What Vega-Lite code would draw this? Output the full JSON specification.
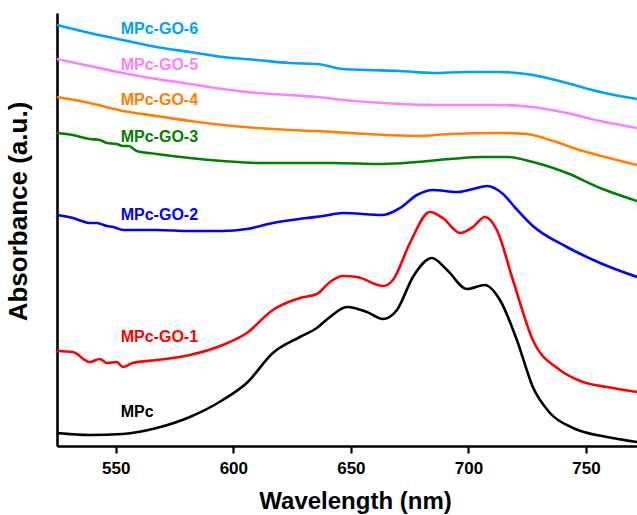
{
  "$schema": "https://vega.github.io/schema/vega-lite/v6.json",
  "width": 580,
  "height": 433,
  "autosize": {"type": "none"},
  "padding": {"left": 57, "top": 13, "right": 0, "bottom": 69},
  "background": "white",
  "config": {
    "view": {"stroke": null},
    "font": "Liberation Sans"
  },
  "datasets": {
    "spectra": [
      {"s": "MPc-GO-6", "w": 525, "a": 4.21}, {"s": "MPc-GO-6", "w": 538.9, "a": 4.13}, {"s": "MPc-GO-6", "w": 553, "a": 4.06}, {"s": "MPc-GO-6", "w": 567.4, "a": 3.99}, {"s": "MPc-GO-6", "w": 581.5, "a": 3.94}, {"s": "MPc-GO-6", "w": 595.5, "a": 3.89}, {"s": "MPc-GO-6", "w": 610, "a": 3.86}, {"s": "MPc-GO-6", "w": 624, "a": 3.83}, {"s": "MPc-GO-6", "w": 635.5, "a": 3.82}, {"s": "MPc-GO-6", "w": 646.6, "a": 3.77}, {"s": "MPc-GO-6", "w": 656.8, "a": 3.76}, {"s": "MPc-GO-6", "w": 670.9, "a": 3.75}, {"s": "MPc-GO-6", "w": 684.9, "a": 3.73}, {"s": "MPc-GO-6", "w": 699.4, "a": 3.74}, {"s": "MPc-GO-6", "w": 713.4, "a": 3.74}, {"s": "MPc-GO-6", "w": 727.4, "a": 3.71}, {"s": "MPc-GO-6", "w": 741.9, "a": 3.63}, {"s": "MPc-GO-6", "w": 756, "a": 3.54}, {"s": "MPc-GO-6", "w": 771.7, "a": 3.47},

      {"s": "MPc-GO-5", "w": 525, "a": 3.87}, {"s": "MPc-GO-5", "w": 538.9, "a": 3.80}, {"s": "MPc-GO-5", "w": 553, "a": 3.73}, {"s": "MPc-GO-5", "w": 567.4, "a": 3.67}, {"s": "MPc-GO-5", "w": 581.5, "a": 3.62}, {"s": "MPc-GO-5", "w": 595.5, "a": 3.57}, {"s": "MPc-GO-5", "w": 610, "a": 3.53}, {"s": "MPc-GO-5", "w": 624, "a": 3.51}, {"s": "MPc-GO-5", "w": 635.5, "a": 3.49}, {"s": "MPc-GO-5", "w": 646.6, "a": 3.46}, {"s": "MPc-GO-5", "w": 663.6, "a": 3.43}, {"s": "MPc-GO-5", "w": 684.9, "a": 3.41}, {"s": "MPc-GO-5", "w": 699.4, "a": 3.41}, {"s": "MPc-GO-5", "w": 713.4, "a": 3.41}, {"s": "MPc-GO-5", "w": 727.4, "a": 3.39}, {"s": "MPc-GO-5", "w": 741.9, "a": 3.33}, {"s": "MPc-GO-5", "w": 756, "a": 3.25}, {"s": "MPc-GO-5", "w": 771.7, "a": 3.18},

      {"s": "MPc-GO-4", "w": 525, "a": 3.49}, {"s": "MPc-GO-4", "w": 538.9, "a": 3.43}, {"s": "MPc-GO-4", "w": 553, "a": 3.35}, {"s": "MPc-GO-4", "w": 567.4, "a": 3.30}, {"s": "MPc-GO-4", "w": 581.5, "a": 3.25}, {"s": "MPc-GO-4", "w": 595.5, "a": 3.21}, {"s": "MPc-GO-4", "w": 610, "a": 3.18}, {"s": "MPc-GO-4", "w": 624, "a": 3.16}, {"s": "MPc-GO-4", "w": 635.5, "a": 3.15}, {"s": "MPc-GO-4", "w": 642.3, "a": 3.14}, {"s": "MPc-GO-4", "w": 656.8, "a": 3.12}, {"s": "MPc-GO-4", "w": 678.1, "a": 3.10}, {"s": "MPc-GO-4", "w": 692.1, "a": 3.12}, {"s": "MPc-GO-4", "w": 713.4, "a": 3.13}, {"s": "MPc-GO-4", "w": 724.9, "a": 3.12}, {"s": "MPc-GO-4", "w": 734.7, "a": 3.06}, {"s": "MPc-GO-4", "w": 748.7, "a": 2.95}, {"s": "MPc-GO-4", "w": 763.2, "a": 2.86}, {"s": "MPc-GO-4", "w": 771.7, "a": 2.81},

      {"s": "MPc-GO-3", "w": 525, "a": 3.13}, {"s": "MPc-GO-3", "w": 531.7, "a": 3.11}, {"s": "MPc-GO-3", "w": 538.9, "a": 3.07}, {"s": "MPc-GO-3", "w": 543.2, "a": 3.06}, {"s": "MPc-GO-3", "w": 546.2, "a": 3.03}, {"s": "MPc-GO-3", "w": 550.4, "a": 3.02}, {"s": "MPc-GO-3", "w": 553, "a": 3.00}, {"s": "MPc-GO-3", "w": 555.5, "a": 3.00}, {"s": "MPc-GO-3", "w": 558.9, "a": 2.95}, {"s": "MPc-GO-3", "w": 567.4, "a": 2.92}, {"s": "MPc-GO-3", "w": 581.5, "a": 2.88}, {"s": "MPc-GO-3", "w": 595.5, "a": 2.85}, {"s": "MPc-GO-3", "w": 610, "a": 2.83}, {"s": "MPc-GO-3", "w": 624, "a": 2.83}, {"s": "MPc-GO-3", "w": 642.3, "a": 2.83}, {"s": "MPc-GO-3", "w": 663.6, "a": 2.82}, {"s": "MPc-GO-3", "w": 678.1, "a": 2.84}, {"s": "MPc-GO-3", "w": 692.1, "a": 2.87}, {"s": "MPc-GO-3", "w": 706.2, "a": 2.89}, {"s": "MPc-GO-3", "w": 716.4, "a": 2.89}, {"s": "MPc-GO-3", "w": 727.4, "a": 2.84}, {"s": "MPc-GO-3", "w": 741.9, "a": 2.73}, {"s": "MPc-GO-3", "w": 756, "a": 2.58}, {"s": "MPc-GO-3", "w": 771.7, "a": 2.45},

      {"s": "MPc-GO-2", "w": 525, "a": 2.31}, {"s": "MPc-GO-2", "w": 531.7, "a": 2.28}, {"s": "MPc-GO-2", "w": 535.5, "a": 2.25}, {"s": "MPc-GO-2", "w": 538.9, "a": 2.23}, {"s": "MPc-GO-2", "w": 542, "a": 2.23}, {"s": "MPc-GO-2", "w": 546.2, "a": 2.20}, {"s": "MPc-GO-2", "w": 549, "a": 2.19}, {"s": "MPc-GO-2", "w": 553, "a": 2.16}, {"s": "MPc-GO-2", "w": 567.4, "a": 2.16}, {"s": "MPc-GO-2", "w": 581.5, "a": 2.15}, {"s": "MPc-GO-2", "w": 595.5, "a": 2.15}, {"s": "MPc-GO-2", "w": 605.7, "a": 2.17}, {"s": "MPc-GO-2", "w": 616.8, "a": 2.23}, {"s": "MPc-GO-2", "w": 631.3, "a": 2.28}, {"s": "MPc-GO-2", "w": 638.1, "a": 2.30}, {"s": "MPc-GO-2", "w": 646.6, "a": 2.33}, {"s": "MPc-GO-2", "w": 663.6, "a": 2.31}, {"s": "MPc-GO-2", "w": 670.9, "a": 2.38}, {"s": "MPc-GO-2", "w": 678.1, "a": 2.51}, {"s": "MPc-GO-2", "w": 684.9, "a": 2.56}, {"s": "MPc-GO-2", "w": 695.1, "a": 2.54}, {"s": "MPc-GO-2", "w": 701.9, "a": 2.57}, {"s": "MPc-GO-2", "w": 707.9, "a": 2.60}, {"s": "MPc-GO-2", "w": 714.7, "a": 2.52}, {"s": "MPc-GO-2", "w": 720, "a": 2.38}, {"s": "MPc-GO-2", "w": 727.4, "a": 2.20}, {"s": "MPc-GO-2", "w": 741.9, "a": 1.99}, {"s": "MPc-GO-2", "w": 756, "a": 1.83}, {"s": "MPc-GO-2", "w": 771.7, "a": 1.69},

      {"s": "MPc-GO-1", "w": 525, "a": 0.95}, {"s": "MPc-GO-1", "w": 531.7, "a": 0.94}, {"s": "MPc-GO-1", "w": 538.9, "a": 0.84}, {"s": "MPc-GO-1", "w": 543.2, "a": 0.87}, {"s": "MPc-GO-1", "w": 546.2, "a": 0.83}, {"s": "MPc-GO-1", "w": 550.4, "a": 0.84}, {"s": "MPc-GO-1", "w": 553, "a": 0.79}, {"s": "MPc-GO-1", "w": 557.2, "a": 0.83}, {"s": "MPc-GO-1", "w": 567.4, "a": 0.86}, {"s": "MPc-GO-1", "w": 581.5, "a": 0.91}, {"s": "MPc-GO-1", "w": 595.5, "a": 1.01}, {"s": "MPc-GO-1", "w": 605.7, "a": 1.13}, {"s": "MPc-GO-1", "w": 616.8, "a": 1.36}, {"s": "MPc-GO-1", "w": 628.3, "a": 1.48}, {"s": "MPc-GO-1", "w": 635.5, "a": 1.52}, {"s": "MPc-GO-1", "w": 641.1, "a": 1.64}, {"s": "MPc-GO-1", "w": 646.6, "a": 1.70}, {"s": "MPc-GO-1", "w": 652.6, "a": 1.69}, {"s": "MPc-GO-1", "w": 663.6, "a": 1.60}, {"s": "MPc-GO-1", "w": 667.9, "a": 1.66}, {"s": "MPc-GO-1", "w": 675.1, "a": 2.03}, {"s": "MPc-GO-1", "w": 683.6, "a": 2.34}, {"s": "MPc-GO-1", "w": 689.1, "a": 2.28}, {"s": "MPc-GO-1", "w": 696.4, "a": 2.13}, {"s": "MPc-GO-1", "w": 701.9, "a": 2.19}, {"s": "MPc-GO-1", "w": 707, "a": 2.29}, {"s": "MPc-GO-1", "w": 712.1, "a": 2.16}, {"s": "MPc-GO-1", "w": 718.9, "a": 1.66}, {"s": "MPc-GO-1", "w": 727.4, "a": 1.06}, {"s": "MPc-GO-1", "w": 738.9, "a": 0.76}, {"s": "MPc-GO-1", "w": 748.7, "a": 0.64}, {"s": "MPc-GO-1", "w": 758.9, "a": 0.59}, {"s": "MPc-GO-1", "w": 771.7, "a": 0.54},

      {"s": "MPc", "w": 525, "a": 0.13}, {"s": "MPc", "w": 538.9, "a": 0.11}, {"s": "MPc", "w": 553, "a": 0.12}, {"s": "MPc", "w": 567.4, "a": 0.18}, {"s": "MPc", "w": 581.5, "a": 0.29}, {"s": "MPc", "w": 595.5, "a": 0.46}, {"s": "MPc", "w": 605.7, "a": 0.63}, {"s": "MPc", "w": 616.8, "a": 0.93}, {"s": "MPc", "w": 628.3, "a": 1.09}, {"s": "MPc", "w": 635.5, "a": 1.18}, {"s": "MPc", "w": 641.1, "a": 1.29}, {"s": "MPc", "w": 648.3, "a": 1.39}, {"s": "MPc", "w": 656.8, "a": 1.34}, {"s": "MPc", "w": 663.6, "a": 1.27}, {"s": "MPc", "w": 669.6, "a": 1.36}, {"s": "MPc", "w": 676.4, "a": 1.69}, {"s": "MPc", "w": 684.5, "a": 1.88}, {"s": "MPc", "w": 690.9, "a": 1.76}, {"s": "MPc", "w": 699.4, "a": 1.57}, {"s": "MPc", "w": 707, "a": 1.61}, {"s": "MPc", "w": 713.4, "a": 1.46}, {"s": "MPc", "w": 720.6, "a": 1.06}, {"s": "MPc", "w": 727.4, "a": 0.59}, {"s": "MPc", "w": 734.7, "a": 0.33}, {"s": "MPc", "w": 744.5, "a": 0.18}, {"s": "MPc", "w": 758.9, "a": 0.09}, {"s": "MPc", "w": 771.7, "a": 0.04}
    ],
    "labels": [
      {"s": "MPc-GO-6", "w": 552.1, "a": 4.17},
      {"s": "MPc-GO-5", "w": 552.1, "a": 3.81},
      {"s": "MPc-GO-4", "w": 552.1, "a": 3.46},
      {"s": "MPc-GO-3", "w": 552.1, "a": 3.09},
      {"s": "MPc-GO-2", "w": 552.1, "a": 2.31},
      {"s": "MPc-GO-1", "w": 552.1, "a": 1.09},
      {"s": "MPc", "w": 552.1, "a": 0.34}
    ]
  },
  "layer": [
    {
      "data": {"name": "spectra"},
      "mark": {"type": "line", "strokeWidth": 2.6, "interpolate": "monotone"},
      "encoding": {
        "x": {
          "field": "w", "type": "quantitative",
          "scale": {"domain": [525, 771.7], "nice": false, "zero": false},
          "axis": {
            "title": "Wavelength (nm)",
            "values": [550, 600, 650, 700, 750],
            "grid": false,
            "domainColor": "black", "domainWidth": 2.6,
            "tickColor": "black", "tickWidth": 2.2, "tickSize": 7,
            "labelFont": "Liberation Sans", "labelFontWeight": "bold", "labelFontSize": 17, "labelColor": "black", "labelPadding": 7,
            "titleFont": "Liberation Sans", "titleFontWeight": "bold", "titleFontSize": 24, "titleColor": "black", "titlePadding": 13,
            "titleX": 298
          }
        },
        "y": {
          "field": "a", "type": "quantitative",
          "scale": {"domain": [0, 4.33], "nice": false, "zero": false},
          "axis": {
            "title": "Absorbance (a.u.)",
            "ticks": false, "labels": false, "grid": false,
            "domainColor": "black", "domainWidth": 2.6,
            "titleFont": "Liberation Sans", "titleFontWeight": "bold", "titleFontSize": 26, "titleColor": "black",
            "titlePadding": 26, "titleY": 198
          }
        },
        "color": {
          "field": "s", "type": "nominal",
          "scale": {
            "domain": ["MPc-GO-6", "MPc-GO-5", "MPc-GO-4", "MPc-GO-3", "MPc-GO-2", "MPc-GO-1", "MPc"],
            "range": ["#00A0FF", "#FF80FF", "#FF8000", "#008000", "#0000FF", "#FF0000", "#000000"]
          },
          "legend": null
        },
        "detail": {"field": "s"}
      }
    },
    {
      "data": {"name": "labels"},
      "mark": {"type": "text", "align": "left", "baseline": "middle", "font": "Liberation Sans", "fontWeight": "bold", "fontSize": 16},
      "encoding": {
        "x": {"field": "w", "type": "quantitative"},
        "y": {"field": "a", "type": "quantitative"},
        "text": {"field": "s"},
        "color": {"field": "s", "type": "nominal", "legend": null}
      }
    },
    {
      "mark": {"type": "rule", "color": "black", "strokeWidth": 2.6},
      "encoding": {"y": {"datum": 4.33}}
    }
  ]
}
